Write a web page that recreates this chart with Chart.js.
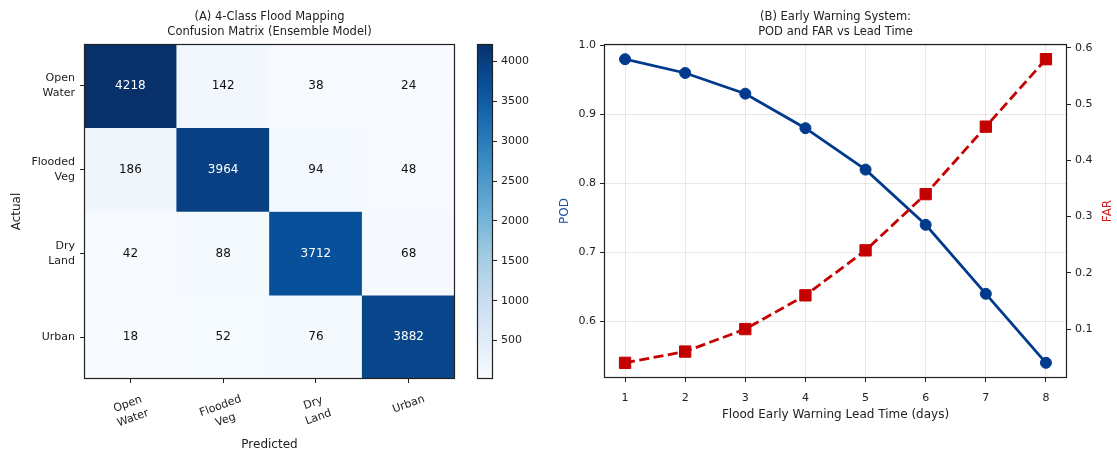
<!DOCTYPE html>
<html>
<head>
<meta charset="utf-8">
<script src="https://cdn.jsdelivr.net/npm/chart.js@4.4.1/dist/chart.umd.min.js"></script>
<style>
  html, body { margin: 0; padding: 0; background: #fff; }
  #wrap { position: relative; width: 1117px; height: 452px; overflow: hidden; }
  #wrap canvas { position: absolute; left: 0; top: 0; }
</style>
</head>
<body>
<div id="wrap">
  <canvas id="cm" width="1117" height="452"></canvas>
  <canvas id="cbar" width="1117" height="452"></canvas>
  <canvas id="ews" width="1117" height="452"></canvas>
</div>
<script>
// ---- Panel A: confusion matrix of the 4-class flood map ----
const classNames = [['Open', 'Water'], ['Flooded', 'Veg'], ['Dry', 'Land'], ['Urban']];
const rowOpenWater = [4218, 142, 38, 24];
const rowFloodedVeg = [186, 3964, 94, 48];
const rowDryLand = [42, 88, 3712, 68];
const rowUrban = [18, 52, 76, 3882];
const confusion = [rowOpenWater, rowFloodedVeg, rowDryLand, rowUrban];
const colorbarTicks = [500, 1000, 1500, 2000, 2500, 3000, 3500, 4000];

// ---- Panel B: early warning skill vs lead time ----
const leadDays = [1, 2, 3, 4, 5, 6, 7, 8];
const podValues = [0.98, 0.96, 0.93, 0.88, 0.82, 0.74, 0.64, 0.54];
const farValues = [0.04, 0.06, 0.10, 0.16, 0.24, 0.34, 0.46, 0.58];
const podTicks = [0.6, 0.7, 0.8, 0.9, 1.0];
const farTicks = [0.1, 0.2, 0.3, 0.4, 0.5, 0.6];

const W = 1117, H = 452;
const FONT = '"DejaVu Sans", "Liberation Sans", sans-serif';
const INK = '#222';
const NAVY = '#003a8c';
const RED = '#c40000';
const TITLE_SIZE = 11.5, LABEL_SIZE = 12, TICK_SIZE = 11, CELL_SIZE = 12;

// Sequential blue palette (ColorBrewer Blues, 9 classes)
const bluesStops = ['#f7fbff', '#deebf7', '#c6dbef', '#9ecae1', '#6baed6', '#4292c6', '#2171b5', '#08519c', '#08306b'];
function hexToRgb(h) { return [1, 3, 5].map(i => parseInt(h.substr(i, 2), 16)); }
function blues(t) {
  t = Math.max(0, Math.min(1, t));
  const p = t * (bluesStops.length - 1);
  const i = Math.min(bluesStops.length - 2, Math.floor(p));
  const f = p - i;
  const a = hexToRgb(bluesStops[i]), b = hexToRgb(bluesStops[i + 1]);
  const c = a.map((v, k) => Math.round(v + (b[k] - v) * f));
  return `rgb(${c[0]},${c[1]},${c[2]})`;
}

const allCounts = confusion.flat();
const vmin = Math.min(...allCounts);
const vmax = Math.max(...allCounts);
const norm = v => (v - vmin) / (vmax - vmin);

Chart.defaults.font.family = FONT;
Chart.defaults.font.size = TICK_SIZE;
Chart.defaults.color = INK;

function frame(chart) {
  const a = chart.chartArea, ctx = chart.ctx;
  ctx.save();
  ctx.strokeStyle = '#222';
  ctx.lineWidth = 1.2;
  ctx.strokeRect(Math.round(a.left) + 0.5, Math.round(a.top) + 0.5,
                 Math.round(a.right - a.left) - 1, Math.round(a.bottom - a.top) - 1);
  ctx.restore();
}
function text(ctx, str, x, y, opts = {}) {
  ctx.save();
  ctx.font = `${opts.size || TICK_SIZE}px ${FONT}`;
  ctx.fillStyle = opts.color || INK;
  ctx.textAlign = opts.align || 'center';
  ctx.textBaseline = 'middle';
  ctx.translate(x, y);
  if (opts.rotate) ctx.rotate(opts.rotate);
  ctx.fillText(str, 0, 0);
  ctx.restore();
}

// ---------- confusion matrix ----------
const cmPlugin = {
  id: 'cmText',
  afterDatasetsDraw(chart) {
    const ctx = chart.ctx, xs = chart.scales.x, ys = chart.scales.y;
    const thresh = vmax / 2;
    confusion.forEach((row, r) => row.forEach((v, c) => {
      text(ctx, String(v), xs.getPixelForValue(c), ys.getPixelForValue(r + 0.5),
           { color: v > thresh ? '#ffffff' : '#111111', size: CELL_SIZE });
    }));
  },
  afterDraw(chart) {
    const ctx = chart.ctx, a = chart.chartArea, xs = chart.scales.x;
    frame(chart);
    // rotated two-line category names under the matrix
    const ang = 20 * Math.PI / 180, lineH = 15;
    ctx.save();
    ctx.font = `${TICK_SIZE}px ${FONT}`;
    classNames.forEach((lines, i) => {
      const x = xs.getPixelForValue(i);
      const w = Math.max(...lines.map(l => ctx.measureText(l).width));
      const h = (lines.length - 1) * lineH + 12;
      const bh = w * Math.sin(ang) + h * Math.cos(ang);
      const cy = a.bottom + 14 + bh / 2;
      lines.forEach((l, k) => {
        const off = (k - (lines.length - 1) / 2) * lineH;
        text(ctx, l, x + off * Math.sin(ang), cy + off * Math.cos(ang), { rotate: -ang });
      });
    });
    ctx.restore();
    const cx = (a.left + a.right) / 2;
    text(ctx, 'Predicted', cx, 445, { size: LABEL_SIZE });
    text(ctx, 'Actual', 17, (a.top + a.bottom) / 2, { rotate: -Math.PI / 2, size: LABEL_SIZE });
    text(ctx, '(A) 4-Class Flood Mapping', cx, 17, { size: TITLE_SIZE });
    text(ctx, 'Confusion Matrix (Ensemble Model)', cx, 32, { size: TITLE_SIZE });
  }
};

new Chart(document.getElementById('cm'), {
  type: 'bar',
  data: {
    labels: classNames.map(l => l.join(' ')),
    datasets: confusion.map((row, r) => ({
      data: row.map(() => [r, r + 1]),
      backgroundColor: row.map(v => blues(norm(v))),
      borderWidth: 0,
      grouped: false,
      categoryPercentage: 1,
      barPercentage: 1
    }))
  },
  options: {
    responsive: false,
    animation: false,
    events: [],
    layout: { padding: { left: 0, top: 44, right: W - 455, bottom: 0 } },
    plugins: { legend: { display: false }, tooltip: { enabled: false } },
    scales: {
      x: {
        type: 'category',
        offset: true,
        ticks: { display: false },
        grid: { drawOnChartArea: false, offset: false, drawTicks: true, tickLength: 4, tickColor: '#222', tickWidth: 1 },
        border: { display: false },
        afterFit: s => { s.height = H - 379; }
      },
      y: {
        type: 'linear',
        reverse: true,
        min: 0,
        max: confusion.length,
        afterBuildTicks: s => { s.ticks = confusion.map((_, r) => ({ value: r + 0.5 })); },
        ticks: {
          callback: (v, i) => classNames[i],
          padding: 5,
          color: INK,
          font: { size: TICK_SIZE, lineHeight: '15px' }
        },
        grid: { drawOnChartArea: false, tickLength: 4, tickColor: '#222', tickWidth: 1 },
        border: { display: false },
        afterFit: s => { s.width = 84; }
      }
    }
  },
  plugins: [cmPlugin]
});

// ---------- colour bar ----------
function barGradient(c) {
  const chart = c.chart, a = chart.chartArea;
  if (!a) return blues(0.5);
  const ys = chart.scales.y;
  const g = chart.ctx.createLinearGradient(0, ys.getPixelForValue(vmin), 0, ys.getPixelForValue(vmax));
  bluesStops.forEach((col, k) => g.addColorStop(k / (bluesStops.length - 1), col));
  return g;
}
new Chart(document.getElementById('cbar'), {
  type: 'bar',
  data: {
    labels: ['count'],
    datasets: [{
      data: [[vmin, vmax]],
      backgroundColor: barGradient,
      borderWidth: 0,
      categoryPercentage: 1,
      barPercentage: 1
    }]
  },
  options: {
    responsive: false,
    animation: false,
    events: [],
    layout: { padding: { left: 477, top: 44, right: 0, bottom: H - 379 } },
    plugins: { legend: { display: false }, tooltip: { enabled: false } },
    scales: {
      x: { display: false },
      y: {
        position: 'right',
        min: vmin,
        max: vmax,
        afterBuildTicks: s => { s.ticks = colorbarTicks.map(v => ({ value: v })); },
        ticks: { padding: 4, color: INK, font: { size: TICK_SIZE }, callback: v => String(v) },
        grid: { drawOnChartArea: false, tickLength: 4, tickColor: '#222', tickWidth: 1 },
        border: { display: false },
        afterFit: s => { s.width = W - 493; }
      }
    }
  },
  plugins: [{ id: 'cbFrame', afterDraw: frame }]
});

// ---------- POD / FAR vs lead time ----------
function paddedRange(vals) {
  const lo = Math.min(...vals), hi = Math.max(...vals), m = (hi - lo) * 0.05;
  return [lo - m, hi + m];
}
const xr = paddedRange(leadDays), podR = paddedRange(podValues), farR = paddedRange(farValues);

const ewsPlugin = {
  id: 'ewsText',
  afterDraw(chart) {
    const ctx = chart.ctx, a = chart.chartArea;
    frame(chart);
    const cx = (a.left + a.right) / 2, cy = (a.top + a.bottom) / 2;
    text(ctx, '(B) Early Warning System:', cx, 17, { size: TITLE_SIZE });
    text(ctx, 'POD and FAR vs Lead Time', cx, 32, { size: TITLE_SIZE });
    text(ctx, 'Flood Early Warning Lead Time (days)', cx, 415, { size: LABEL_SIZE });
    text(ctx, 'POD', 565, cy, { rotate: -Math.PI / 2, color: '#1f4fa0', size: LABEL_SIZE });
    text(ctx, 'FAR', 1108, cy, { rotate: -Math.PI / 2, color: '#d01c1c', size: LABEL_SIZE });
  }
};

new Chart(document.getElementById('ews'), {
  type: 'line',
  data: {
    datasets: [
      {
        label: 'FAR',
        data: leadDays.map((d, i) => ({ x: d, y: farValues[i] })),
        yAxisID: 'y1',
        order: 1,
        borderColor: RED,
        backgroundColor: RED,
        borderWidth: 2.8,
        borderDash: [10, 4.5],
        pointStyle: 'rect',
        pointRadius: 8,
        pointBorderWidth: 1,
        pointBorderColor: RED,
        pointBackgroundColor: RED,
        tension: 0,
        fill: false
      },
      {
        label: 'POD',
        data: leadDays.map((d, i) => ({ x: d, y: podValues[i] })),
        yAxisID: 'y',
        order: 2,
        borderColor: NAVY,
        backgroundColor: NAVY,
        borderWidth: 2.8,
        pointStyle: 'circle',
        pointRadius: 5.5,
        pointBorderWidth: 1,
        pointBorderColor: NAVY,
        pointBackgroundColor: NAVY,
        tension: 0,
        fill: false
      }
    ]
  },
  options: {
    responsive: false,
    animation: false,
    events: [],
    layout: { padding: { left: 0, top: 44, right: 0, bottom: 0 } },
    plugins: { legend: { display: false }, tooltip: { enabled: false } },
    scales: {
      x: {
        type: 'linear',
        min: xr[0],
        max: xr[1],
        afterBuildTicks: s => { s.ticks = leadDays.map(v => ({ value: v })); },
        ticks: { padding: 10, color: INK, font: { size: TICK_SIZE } },
        grid: { color: 'rgba(176,176,176,0.3)', lineWidth: 1, tickLength: 4, tickColor: '#222', tickWidth: 1 },
        border: { display: false },
        afterFit: s => { s.height = H - 378; }
      },
      y: {
        position: 'left',
        min: podR[0],
        max: podR[1],
        afterBuildTicks: s => { s.ticks = podTicks.map(v => ({ value: v })); },
        ticks: { padding: 4, color: INK, font: { size: TICK_SIZE }, callback: v => v.toFixed(1) },
        grid: { color: 'rgba(176,176,176,0.3)', lineWidth: 1, tickLength: 4, tickColor: '#222', tickWidth: 1 },
        border: { display: false },
        afterFit: s => { s.width = 604; }
      },
      y1: {
        position: 'right',
        min: farR[0],
        max: farR[1],
        afterBuildTicks: s => { s.ticks = farTicks.map(v => ({ value: v })); },
        ticks: { padding: 4, color: INK, font: { size: TICK_SIZE }, callback: v => v.toFixed(1) },
        grid: { drawOnChartArea: false, tickLength: 4, tickColor: '#222', tickWidth: 1 },
        border: { display: false },
        afterFit: s => { s.width = W - 1067; }
      }
    }
  },
  plugins: [ewsPlugin]
});
</script>
</body>
</html>
